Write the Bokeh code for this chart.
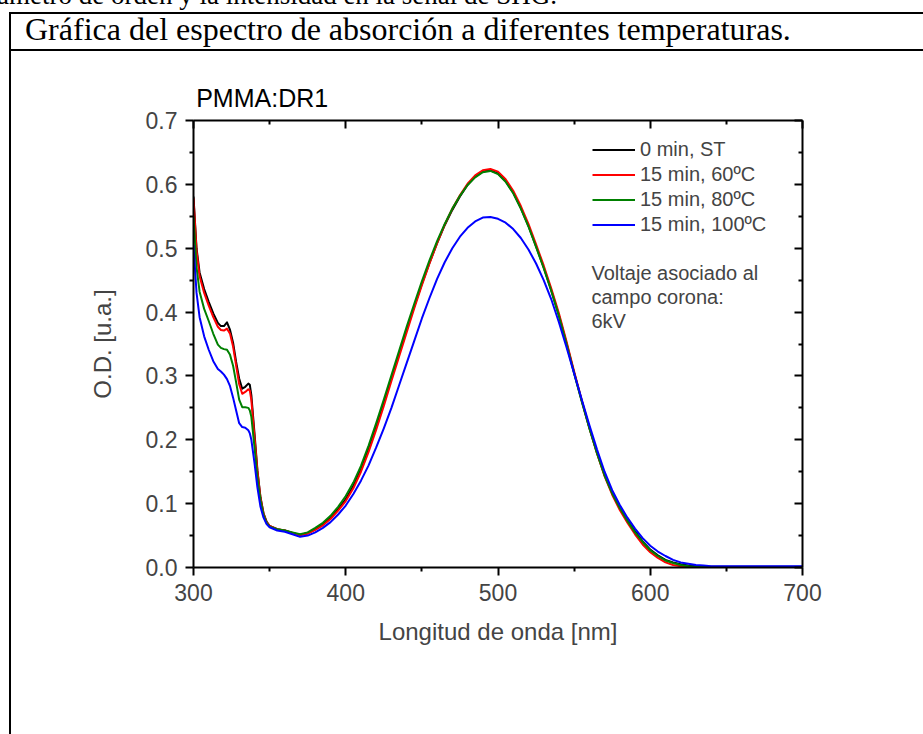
from bokeh.plotting import figure
from bokeh.models import (Range1d, LinearAxis, FixedTicker, NumeralTickFormatter,
                          CustomJSTickFormatter, Label, Legend, LegendItem, Div, Title)
from bokeh.layouts import column, row
from bokeh.embed import file_html
from bokeh.resources import INLINE

# ---------------- data ----------------
wavelength = [300, 302, 304, 307, 310, 313, 316, 318, 320, 322, 324, 326, 328, 330, 332, 334, 336, 337, 338, 340,
              342, 344, 346, 348, 350,
              355, 360, 365, 370, 375, 380, 385, 390, 395, 400, 405, 410, 415, 420, 425, 430, 435, 440, 445, 450,
              455, 460, 465, 470, 475, 480, 485, 490, 495, 500, 505, 510, 515, 520, 525, 530, 535, 540, 545, 550,
              555, 560, 565, 570, 575, 580, 585, 590, 595, 600, 605, 610, 615, 620, 625, 630, 635, 640,
              650, 660, 670, 680, 690, 700]

od_0min_st = [0.581, 0.500, 0.462, 0.436, 0.416, 0.398, 0.383, 0.378, 0.378, 0.384, 0.372, 0.352, 0.322, 0.296,
              0.280, 0.283, 0.288, 0.286, 0.270, 0.212, 0.152, 0.110, 0.085, 0.072, 0.065,
              0.060, 0.058, 0.054, 0.051, 0.054, 0.060,
              0.068, 0.078, 0.091, 0.107,
              0.128, 0.154, 0.186, 0.221, 0.258, 0.296, 0.334, 0.372, 0.409, 0.444,
              0.477, 0.508, 0.536, 0.560, 0.581, 0.599, 0.612, 0.620, 0.622, 0.617,
              0.605, 0.587, 0.563, 0.535, 0.503, 0.470, 0.434, 0.395, 0.351, 0.305,
              0.261, 0.219, 0.180, 0.145, 0.117, 0.094, 0.074, 0.057, 0.041, 0.028,
              0.019, 0.012, 0.008, 0.005, 0.003, 0.002, 0.001, 0.001,
              0.001, 0.001, 0.001, 0.001, 0.001, 0.001]

od_60c = [0.578, 0.496, 0.456, 0.430, 0.410, 0.392, 0.377, 0.372, 0.371, 0.374, 0.366, 0.346, 0.316, 0.287,
          0.272, 0.275, 0.279, 0.277, 0.262, 0.206, 0.150, 0.109, 0.084, 0.071, 0.065,
          0.060, 0.058, 0.054, 0.051, 0.053, 0.059,
          0.066, 0.076, 0.089, 0.104,
          0.124, 0.150, 0.181, 0.216, 0.253, 0.292, 0.330, 0.368, 0.406, 0.442,
          0.476, 0.508, 0.537, 0.562, 0.583, 0.601, 0.614, 0.622, 0.624, 0.620,
          0.608, 0.590, 0.566, 0.538, 0.506, 0.473, 0.437, 0.398, 0.354, 0.307,
          0.262, 0.219, 0.179, 0.143, 0.114, 0.090, 0.070, 0.052, 0.036, 0.024,
          0.015, 0.008, 0.004, 0.002, 0.001, 0.000, 0.000, 0.000,
          0.000, 0.000, 0.000, 0.000, 0.000, 0.000]

od_80c = [0.550, 0.470, 0.432, 0.405, 0.386, 0.366, 0.349, 0.344, 0.342, 0.341, 0.333, 0.316, 0.290, 0.263,
          0.251, 0.251, 0.250, 0.246, 0.236, 0.190, 0.140, 0.105, 0.082, 0.070, 0.064,
          0.060, 0.058, 0.055, 0.052, 0.055, 0.062,
          0.070, 0.081, 0.095, 0.112,
          0.133, 0.159, 0.191, 0.226, 0.263, 0.301, 0.339, 0.377, 0.413, 0.448,
          0.481, 0.511, 0.538, 0.562, 0.582, 0.599, 0.611, 0.619, 0.621, 0.616,
          0.604, 0.586, 0.562, 0.534, 0.502, 0.469, 0.433, 0.394, 0.350, 0.304,
          0.260, 0.218, 0.179, 0.144, 0.116, 0.093, 0.073, 0.055, 0.040, 0.027,
          0.018, 0.011, 0.007, 0.004, 0.002, 0.001, 0.001, 0.000,
          0.000, 0.000, 0.000, 0.000, 0.000, 0.000]

od_100c = [0.505, 0.430, 0.392, 0.362, 0.341, 0.323, 0.311, 0.307, 0.302, 0.295, 0.284, 0.266, 0.246, 0.226,
           0.220, 0.219, 0.215, 0.210, 0.200, 0.165, 0.125, 0.095, 0.078, 0.068, 0.063,
           0.058, 0.056, 0.052, 0.048, 0.050, 0.055,
           0.062, 0.071, 0.083, 0.097,
           0.115, 0.136, 0.160, 0.188, 0.218, 0.250, 0.285, 0.320, 0.355, 0.390,
           0.422, 0.452, 0.478, 0.500, 0.518, 0.532, 0.542, 0.548, 0.549, 0.546,
           0.540, 0.530, 0.516, 0.498, 0.476, 0.450, 0.420, 0.384, 0.345, 0.304,
           0.263, 0.223, 0.185, 0.150, 0.121, 0.098, 0.078, 0.061, 0.046, 0.034,
           0.025, 0.018, 0.012, 0.008, 0.006, 0.004, 0.003, 0.002,
           0.002, 0.002, 0.002, 0.002, 0.002, 0.002]

series_labels = ["0 min, ST", "15 min, 60ºC", "15 min, 80ºC", "15 min, 100ºC"]
series_colors = ["#000000", "#ff0000", "#008000", "#0000ff"]
series_values = [od_0min_st, od_60c, od_80c, od_100c]

x_range_nm = (300, 700)
y_range_od = (0.0, 0.7)
x_ticks = [300, 400, 500, 600, 700]
x_minor_ticks = [350, 450, 550, 650]
y_ticks = [0.0, 0.1, 0.2, 0.3, 0.4, 0.5, 0.6, 0.7]
y_minor_ticks = [0.05, 0.15, 0.25, 0.35, 0.45, 0.55, 0.65]

doc_text_top = "ámetro de orden y la intensidad en la señal de SHG."
doc_caption = "Gráfica del espectro de absorción a diferentes temperaturas."
sample_title = "PMMA:DR1"
note_lines = ["Voltaje asociado al", "campo corona:", "6kV"]
x_title = "Longitud de onda [nm]"
y_title = "O.D. [u.a.]"

# ---------------- layout (page pixels) ----------------
PAGE_W, PAGE_H = 923, 734
HEAD_H = 60             # header block (document text + table header row)
LINE_W = 11             # strip holding the table's left border
FL, FR, FT, FB = 193, 802, 120, 567   # plot frame edges on the page
SANS = "Liberation Sans"
SERIF = "Liberation Serif"

fig_w = PAGE_W - LINE_W
fig_h = PAGE_H - HEAD_H


def dx(px):
    return x_range_nm[0] + (px - FL) / (FR - FL) * (x_range_nm[1] - x_range_nm[0])


def dy(py):
    return y_range_od[0] + (FB - py) / (FB - FT) * (y_range_od[1] - y_range_od[0])


p = figure(width=fig_w, height=fig_h, output_backend="svg", toolbar_location=None,
           x_range=Range1d(*x_range_nm), y_range=Range1d(*y_range_od),
           min_border_left=FL - LINE_W, min_border_right=PAGE_W - FR,
           min_border_top=FT - HEAD_H, min_border_bottom=PAGE_H - FB,
           x_axis_type=None, y_axis_type=None)
p.title = Title(text=sample_title, align="left", offset=2.7, standoff=17,
                text_font=SANS, text_font_size="25px", text_font_style="normal",
                text_color="black")
p.xgrid.visible = False
p.ygrid.visible = False
p.outline_line_color = None
p.background_fill_color = "white"
p.border_fill_color = "white"


def make_axis(side):
    if side in ("below", "above"):
        ticker = FixedTicker(ticks=x_ticks, minor_ticks=x_minor_ticks)
    else:
        ticker = FixedTicker(ticks=y_ticks, minor_ticks=y_minor_ticks)
    ax = LinearAxis(ticker=ticker)
    ax.axis_line_width = 2
    ax.axis_line_color = "black"
    ax.major_tick_line_width = 2
    ax.minor_tick_line_width = 2
    ax.major_tick_line_color = "black"
    ax.minor_tick_line_color = "black"
    ax.major_label_text_font = SANS
    ax.major_label_text_font_size = "23px"
    ax.axis_label_text_font = SANS
    ax.axis_label_text_font_size = "24px"
    ax.axis_label_text_font_style = "normal"
    if side in ("below", "left"):
        ax.major_tick_out = 8
        ax.major_tick_in = 0
        ax.minor_tick_out = 4
        ax.minor_tick_in = 0
    else:
        ax.major_tick_out = 0
        ax.major_tick_in = 8
        ax.minor_tick_out = 0
        ax.minor_tick_in = 4
        ax.formatter = CustomJSTickFormatter(code="return ''")
        ax.major_label_standoff = 0
        ax.major_label_text_font_size = "0px"
    return ax


xb = make_axis("below")
xb.axis_label = x_title
xb.major_label_standoff = 8
xb.axis_label_standoff = 14
yl = make_axis("left")
yl.axis_label = y_title
yl.formatter = NumeralTickFormatter(format="0.0")
yl.major_label_standoff = 8
yl.axis_label_standoff = 27
p.add_layout(xb, "below")
p.add_layout(yl, "left")
p.add_layout(make_axis("above"), "above")
p.add_layout(make_axis("right"), "right")

items = []
for lab, col, vals in zip(series_labels, series_colors, series_values):
    r = p.line(wavelength, vals, line_color=col, line_width=2, line_join="round")
    items.append(LegendItem(label=lab, renderers=[r]))

legend = Legend(items=items, location=(399, 331),
                label_text_font=SANS, label_text_font_size="20px",
                glyph_width=43, glyph_height=21, label_height=21, spacing=2,
                padding=0, margin=0, label_standoff=5,
                border_line_color=None, background_fill_alpha=0)
p.add_layout(legend)

for i, t in enumerate(note_lines):
    p.add_layout(Label(x=dx(591), y=dy(272.5 + 24 * i), text=t, text_font=SANS,
                       text_font_size="20px", text_baseline="middle"))

# ---------------- document header (HTML) ----------------
header_html = f"""
<div style="position:relative;width:{PAGE_W}px;height:{HEAD_H}px;overflow:hidden;background:#fff;">
  <div style="position:absolute;left:-3px;top:-17.6px;font-family:'{SERIF}';font-size:27px;line-height:27px;white-space:nowrap;color:#000;">{doc_text_top}</div>
  <div style="position:absolute;left:9px;top:12px;width:{PAGE_W}px;height:2px;background:#000;"></div>
  <div style="position:absolute;left:9px;top:49px;width:{PAGE_W}px;height:2px;background:#000;"></div>
  <div style="position:absolute;left:9px;top:12px;width:2px;height:{HEAD_H}px;background:#000;"></div>
  <div style="position:absolute;left:25px;top:13.2px;font-family:'{SERIF}';font-size:32px;line-height:32px;white-space:nowrap;color:#000;">{doc_caption}</div>
</div>
"""
header = Div(text=header_html, width=PAGE_W, height=HEAD_H, margin=(0, 0, 0, 0))

strip_html = f"""
<div style="position:relative;width:{LINE_W}px;height:{fig_h}px;overflow:hidden;background:#fff;">
  <div style="position:absolute;left:9px;top:0px;width:2px;height:{fig_h}px;background:#000;"></div>
</div>
"""
strip = Div(text=strip_html, width=LINE_W, height=fig_h, margin=(0, 0, 0, 0))

layout = column(header, row(strip, p, spacing=0), spacing=0)

open("out.html", "w").write(file_html(layout, INLINE))
